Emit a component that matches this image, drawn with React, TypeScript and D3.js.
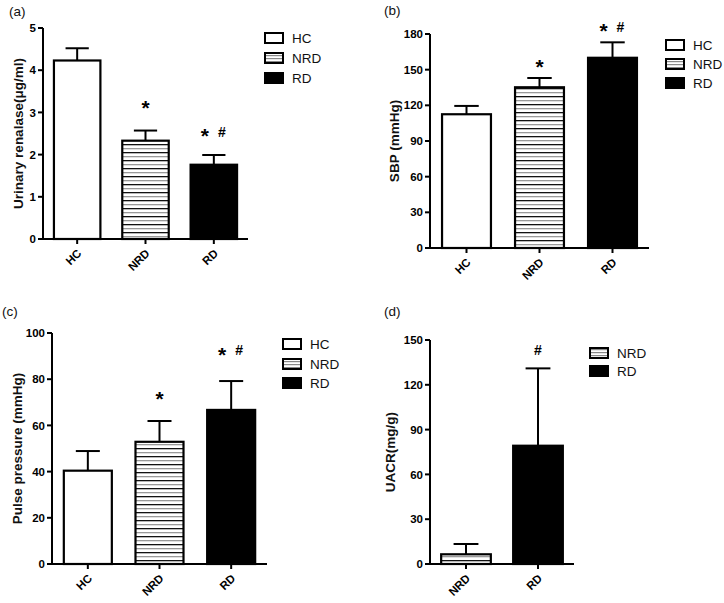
import React from "react";
import * as d3 from "d3";

// ---------- data ----------
const groupsABC = ["HC", "NRD", "RD"];
const groupsD = ["NRD", "RD"];

const renalaseMean = [4.23, 2.33, 1.76];
const renalaseErr = [0.29, 0.24, 0.23];
const renalaseMarks = ["", "*", "* #"];
const renalaseMarkAt = [0, 3.22, 2.54];
const renalaseTicks = [0, 1, 2, 3, 4, 5];

const sbpMean = [112.5, 135.2, 160];
const sbpErr = [7, 7.8, 13];
const sbpMarks = ["", "*", "* #"];
const sbpMarkAt = [0, 156.4, 185.9];
const sbpTicks = [0, 30, 60, 90, 120, 150, 180];

const ppMean = [40.4, 52.9, 66.7];
const ppErr = [8.5, 9.0, 12.5];
const ppMarks = ["", "*", "* #"];
const ppMarkAt = [0, 73.2, 92.6];
const ppTicks = [0, 20, 40, 60, 80, 100];

const uacrMean = [6.5, 79.2];
const uacrErr = [6.9, 51.8];
const uacrMarks = ["", "#"];
const uacrMarkAt = [0, 143.3];
const uacrTicks = [0, 30, 60, 90, 120, 150];

const FONT = "'Liberation Sans', Arial, Helvetica, sans-serif";

const fillFor = (g: string) =>
  g === "HC" ? "#ffffff" : g === "NRD" ? "url(#stripes)" : "#000000";

type PanelProps = {
  label: string;
  labelX: number;
  labelY: number;
  title: string;
  titleX: number;
  groups: string[];
  means: number[];
  errs: number[];
  marks: string[];
  markAt: number[];
  ticks: number[];
  x0: number;
  x1: number;
  yTop: number;
  yZero: number;
  barPad: number;
  legendX: number;
  legendY: number[];
};

function Panel(p: PanelProps) {
  const x = d3
    .scaleBand<string>()
    .domain(p.groups)
    .range([p.x0, p.x1])
    .paddingInner(p.barPad)
    .paddingOuter(p.barPad / 2);
  const yMax = p.ticks[p.ticks.length - 1];
  const y = d3.scaleLinear().domain([0, yMax]).range([p.yZero, p.yTop]);
  const bw = x.bandwidth();
  const capW = bw * 0.5;
  return (
    <g fontFamily={FONT}>
      <text x={p.labelX} y={p.labelY} fontSize={13.5} fill="#111">
        {p.label}
      </text>
      {/* y title */}
      <text
        transform={`translate(${p.titleX},${(p.yTop + p.yZero) / 2}) rotate(-90)`}
        textAnchor="middle"
        dy="0.36em"
        fontSize={13.5}
        fontWeight="bold"
        fill="#111"
      >
        {p.title}
      </text>
      {/* bars */}
      {p.groups.map((g, i) => {
        const bx = x(g)!;
        const top = y(p.means[i]);
        const et = y(p.means[i] + p.errs[i]);
        const cx = bx + bw / 2;
        return (
          <g key={g}>
            <line x1={cx} x2={cx} y1={top} y2={et} stroke="#000" strokeWidth={2} />
            <line x1={cx - capW / 2} x2={cx + capW / 2} y1={et} y2={et} stroke="#000" strokeWidth={2} />
            <rect
              x={bx}
              y={top}
              width={bw}
              height={p.yZero - top}
              fill={fillFor(g)}
              stroke="#000"
              strokeWidth={2.2}
            />
          </g>
        );
      })}
      {/* significance marks */}
      {p.groups.map((g, i) => {
        const m = p.marks[i];
        if (!m) return null;
        const cx = x(g)! + bw / 2;
        const cy = y(p.markAt[i]);
        const parts = m.split(" ");
        if (parts.length === 1) {
          return parts[0] === "*" ? (
            <text key={g} x={cx} y={cy + 11.5} textAnchor="middle" fontSize={21} fontWeight="bold">*</text>
          ) : (
            <text key={g} x={cx} y={cy + 5} textAnchor="middle" fontSize={14} fontWeight="bold">#</text>
          );
        }
        return (
          <g key={g}>
            <text x={cx - 9} y={cy + 11.5} textAnchor="middle" fontSize={21} fontWeight="bold">*</text>
            <text x={cx + 8} y={cy + 5} textAnchor="middle" fontSize={14} fontWeight="bold">#</text>
          </g>
        );
      })}
      {/* y axis */}
      <line x1={p.x0} x2={p.x0} y1={p.yTop} y2={p.yZero} stroke="#000" strokeWidth={2} />
      {p.ticks.map((t) => (
        <g key={t}>
          <line x1={p.x0 - 5} x2={p.x0} y1={y(t)} y2={y(t)} stroke="#000" strokeWidth={2} />
          <text x={p.x0 - 7} y={y(t)} dy="0.36em" textAnchor="end" fontSize={11.5} fontWeight="bold">
            {t}
          </text>
        </g>
      ))}
      {/* x axis */}
      <line x1={p.x0 - 1} x2={p.x1} y1={p.yZero} y2={p.yZero} stroke="#000" strokeWidth={2} />
      {p.groups.map((g) => {
        const cx = x(g)! + bw / 2;
        return (
          <g key={g}>
            <line x1={cx} x2={cx} y1={p.yZero} y2={p.yZero + 5} stroke="#000" strokeWidth={2} />
            <text
              transform={`translate(${cx + 5},${p.yZero + 15}) rotate(-45)`}
              textAnchor="end"
              fontSize={11.5}
              fontWeight="bold"
            >
              {g}
            </text>
          </g>
        );
      })}
      {/* legend */}
      {p.groups.map((g, i) => (
        <g key={g}>
          <rect
            x={p.legendX}
            y={p.legendY[i]}
            width={18}
            height={10}
            fill={g === "NRD" ? "url(#stripesLegend)" : fillFor(g)}
            stroke="#000"
            strokeWidth={2}
          />
          <text x={p.legendX + 27} y={p.legendY[i] + 5} dy="0.36em" fontSize={13.5} fill="#111">
            {g}
          </text>
        </g>
      ))}
    </g>
  );
}

export default function App() {
  return (
    <svg
      width={724}
      height={603}
      viewBox="0 0 724 603"
      style={{ position: "absolute", left: 0, top: 0, background: "#fff" }}
    >
      <defs>
        <pattern id="stripes" patternUnits="userSpaceOnUse" width={8} height={8}>
          <rect x={0} y={0} width={8} height={8} fill="#fff" />
          <rect x={0} y={0} width={8} height={1.3} fill="#111" />
          <rect x={0} y={4} width={8} height={1.3} fill="#999" />
        </pattern>
        <pattern id="stripesLegend" patternUnits="userSpaceOnUse" width={8} height={3}>
          <rect x={0} y={0} width={8} height={3} fill="#fff" />
          <rect x={0} y={1} width={8} height={1.2} fill="#888" />
        </pattern>
      </defs>
      <rect width={724} height={603} fill="#fff" />
      <Panel
        label="(a)"
        labelX={9}
        labelY={16}
        title="Urinary renalase(μg/ml)"
        titleX={18}
        groups={groupsABC}
        means={renalaseMean}
        errs={renalaseErr}
        marks={renalaseMarks}
        markAt={renalaseMarkAt}
        ticks={renalaseTicks}
        x0={43}
        x1={248}
        yTop={28}
        yZero={239}
        barPad={0.32}
        legendX={265}
        legendY={[33, 53, 73]}
      />
      <Panel
        label="(b)"
        labelX={384}
        labelY={15}
        title="SBP (mmHg)"
        titleX={394}
        groups={groupsABC}
        means={sbpMean}
        errs={sbpErr}
        marks={sbpMarks}
        markAt={sbpMarkAt}
        ticks={sbpTicks}
        x0={430}
        x1={649}
        yTop={34}
        yZero={248}
        barPad={0.33}
        legendX={666}
        legendY={[40, 59, 78]}
      />
      <Panel
        label="(c)"
        labelX={2}
        labelY={316}
        title="Pulse pressure (mmHg)"
        titleX={17}
        groups={groupsABC}
        means={ppMean}
        errs={ppErr}
        marks={ppMarks}
        markAt={ppMarkAt}
        ticks={ppTicks}
        x0={52}
        x1={267}
        yTop={333}
        yZero={564}
        barPad={0.33}
        legendX={283}
        legendY={[339, 359, 378]}
      />
      <Panel
        label="(d)"
        labelX={384}
        labelY={316}
        title="UACR(mg/g)"
        titleX={390}
        groups={groupsD}
        means={uacrMean}
        errs={uacrErr}
        marks={uacrMarks}
        markAt={uacrMarkAt}
        ticks={uacrTicks}
        x0={430}
        x1={574}
        yTop={340}
        yZero={564}
        barPad={0.31}
        legendX={590}
        legendY={[348, 366]}
      />
    </svg>
  );
}
